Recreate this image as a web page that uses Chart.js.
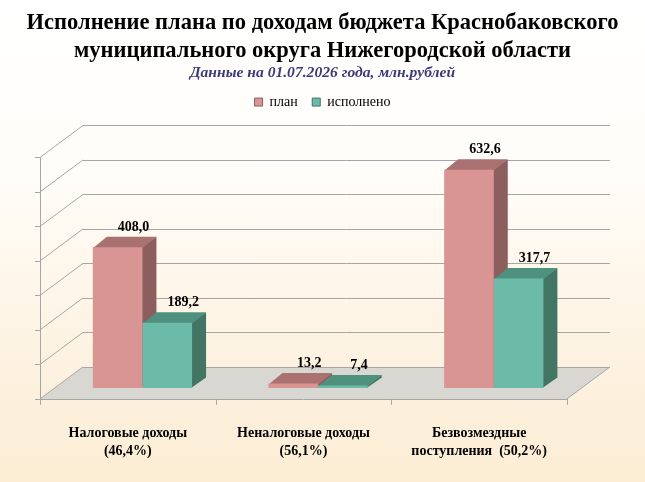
<!DOCTYPE html>
<html>
<head>
<meta charset="utf-8">
<script src="https://cdn.jsdelivr.net/npm/chart.js@4.4.1/dist/chart.umd.min.js"></script>
<style>
  html, body { margin: 0; padding: 0; }
  body { width: 645px; height: 482px; background: linear-gradient(to bottom, #ffffff 0%, #fffdf9 35%, #fdf3e3 70%, #fcedd4 100%); overflow: hidden; }
  #wrap { position: relative; width: 645px; height: 482px; }
</style>
</head>
<body>
<div id="wrap"><canvas id="c" width="645" height="482"></canvas></div>
<script>
const categories = [
  ["Налоговые доходы", "(46,4%)"],
  ["Неналоговые доходы", "(56,1%)"],
  ["Безвозмездные", "поступления  (50,2%)"]
];
const planValues = [408.0, 13.2, 632.6];
const doneValues = [189.2, 7.4, 317.7];
const seriesNames = ["план", "исполнено"];
const yTicks = [0, 100, 200, 300, 400, 500, 600, 700];

const SERIF = "'Liberation Serif', 'Times New Roman', serif";
// depth of plot box (front -> back) and bar plane fraction
const DEPTH = {dx: 43, dy: -32};
const BARF = 0.34;
const BARDEPTH = {dx: 14, dy: -10.5};

const palette = [
  {front: '#d99594', edge: '#c88280', top: '#a97170', side: '#8c5f5e'},
  {front: '#6bbba8', edge: '#58a592', top: '#4e917e', side: '#437565'}
];

function frontGradient(ctx, i) {
  const c = ctx.chart.ctx;
  const el = ctx.element;
  const p = palette[i];
  if (!el || !isFinite(el.x) || !isFinite(el.width)) return p.front;
  const x0 = el.x - el.width / 2, x1 = el.x + el.width / 2;
  const g = c.createLinearGradient(x0, 0, x1, 0);
  g.addColorStop(0, p.edge);
  g.addColorStop(0.12, p.front);
  g.addColorStop(0.88, p.front);
  g.addColorStop(1, p.edge);
  return g;
}

const fmt = v => v.toFixed(1).replace('.', ',');

const frame3d = {
  id: 'frame3d',
  beforeDatasetsDraw(chart) {
    const ctx = chart.ctx;
    const y = chart.scales.y;
    const ca = chart.chartArea;
    const fdx = -DEPTH.dx * BARF, fdy = -DEPTH.dy * BARF;         // bar plane -> front
    const bdx = DEPTH.dx * (1 - BARF), bdy = DEPTH.dy * (1 - BARF); // bar plane -> back
    const fl = ca.left + fdx, fr = ca.right + fdx;
    const bl = ca.left + bdx, br = ca.right + bdx;
    const y0 = y.getPixelForValue(0);
    ctx.save();
    // floor
    ctx.fillStyle = '#d9d7d1';
    ctx.beginPath();
    ctx.moveTo(fl, y0 + fdy);
    ctx.lineTo(fr, y0 + fdy);
    ctx.lineTo(br, y0 + bdy);
    ctx.lineTo(bl, y0 + bdy);
    ctx.closePath();
    ctx.fill();
    ctx.strokeStyle = '#a6a6a6';
    ctx.lineWidth = 1;
    ctx.beginPath();
    ctx.moveTo(fr, y0 + fdy);
    ctx.lineTo(br, y0 + bdy);
    ctx.stroke();
    // back gridlines + left wall lines
    yTicks.forEach(v => {
      const py = y.getPixelForValue(v);
      ctx.beginPath();
      ctx.moveTo(bl, Math.round(py + bdy) + 0.5);
      ctx.lineTo(br, Math.round(py + bdy) + 0.5);
      ctx.moveTo(fl, py + fdy);
      ctx.lineTo(bl, py + bdy);
      ctx.moveTo(fl - 5, Math.round(py + fdy) + 0.5);
      ctx.lineTo(fl, Math.round(py + fdy) + 0.5);
      ctx.stroke();
    });
    // left axis
    const top = y.getPixelForValue(yTicks[yTicks.length - 1]);
    ctx.beginPath();
    ctx.moveTo(Math.round(fl) + 0.5, top + fdy);
    ctx.lineTo(Math.round(fl) + 0.5, y0 + fdy);
    // bottom axis
    ctx.moveTo(fl, Math.round(y0 + fdy) + 0.5);
    ctx.lineTo(fr, Math.round(y0 + fdy) + 0.5);
    // category ticks
    const n = categories.length;
    for (let i = 0; i <= n; i++) {
      const px = Math.round(ca.left + (ca.right - ca.left) * i / n + fdx) + 0.5;
      ctx.moveTo(px, y0 + fdy);
      ctx.lineTo(px, y0 + fdy + 6);
    }
    ctx.stroke();

    // 3D side and top faces of the bars (fronts are drawn by Chart.js on top)
    chart.data.datasets.forEach((ds, di) => {
      const p = palette[di];
      chart.getDatasetMeta(di).data.forEach(el => {
        const x0 = el.x - el.width / 2, x1 = el.x + el.width / 2;
        const t = el.y, b = el.base;
        const dx = BARDEPTH.dx, dy = BARDEPTH.dy;
        ctx.fillStyle = p.side;
        ctx.beginPath();
        ctx.moveTo(x1 - 1, b);
        ctx.lineTo(x1 + dx, b + dy);
        ctx.lineTo(x1 + dx, t + dy);
        ctx.lineTo(x1 - 1, t);
        ctx.closePath();
        ctx.fill();
        ctx.fillStyle = p.top;
        ctx.beginPath();
        ctx.moveTo(x0, t + 1);
        ctx.lineTo(x1, t + 1);
        ctx.lineTo(x1 + dx, t + dy);
        ctx.lineTo(x0 + dx, t + dy);
        ctx.closePath();
        ctx.fill();
      });
    });
    ctx.restore();
  },
  afterDatasetsDraw(chart) {
    const ctx = chart.ctx;
    ctx.save();
    ctx.fillStyle = '#000000';
    ctx.font = "bold 14px " + SERIF;
    ctx.textAlign = 'center';
    ctx.textBaseline = 'middle';
    chart.data.datasets.forEach((ds, di) => {
      const meta = chart.getDatasetMeta(di);
      meta.data.forEach((el, j) => {
        ctx.fillText(fmt(ds.data[j]), el.x + 16, el.y - 20);
      });
    });
    ctx.restore();
  }
};

const hiddenAxis = {
  display: true,
  grid: { display: false },
  border: { display: false },
  ticks: { display: false }
};

new Chart(document.getElementById('c'), {
  type: 'bar',
  data: {
    labels: categories,
    datasets: [
      {
        label: seriesNames[0],
        data: planValues,
        backgroundColor: ctx => frontGradient(ctx, 0),
        borderWidth: 0,
        categoryPercentage: 0.565,
        barPercentage: 1.0
      },
      {
        label: seriesNames[1],
        data: doneValues,
        backgroundColor: ctx => frontGradient(ctx, 1),
        borderWidth: 0,
        categoryPercentage: 0.565,
        barPercentage: 1.0
      }
    ]
  },
  options: {
    responsive: false,
    animation: false,
    devicePixelRatio: 1,
    layout: { padding: 0 },
    plugins: {
      title: {
        display: true,
        text: ["Исполнение плана по доходам бюджета Краснобаковского", "муниципального округа Нижегородской области"],
        color: '#000000',
        font: { family: SERIF, size: 22.5, weight: 'bold', lineHeight: 1.244 },
        padding: { top: 9.5, bottom: 0 }
      },
      subtitle: {
        display: true,
        text: "Данные на 01.07.2026 года, млн.рублей",
        color: '#3d3a78',
        font: { family: SERIF, size: 15.6, weight: 'bold', style: 'italic', lineHeight: 1.0 },
        padding: { top: -0.5, bottom: 0 }
      },
      legend: {
        display: true,
        position: 'top',
        labels: {
          color: '#000000',
          font: { family: SERIF, size: 14 },
          boxWidth: 8,
          boxHeight: 8,
          padding: 14.5,
          generateLabels: chart => chart.data.datasets.map((ds, i) => ({
            text: ds.label,
            fillStyle: palette[i].front,
            strokeStyle: palette[i].side,
            lineWidth: 1,
            datasetIndex: i,
            hidden: false
          }))
        }
      },
      tooltip: { enabled: false }
    },
    scales: {
      x: {
        position: 'bottom',
        grid: { display: false },
        border: { display: false },
        ticks: {
          color: '#000000',
          font: { family: SERIF, size: 14, weight: 'bold', lineHeight: 1.286 },
          padding: 28,
          labelOffset: -14.6,
          maxRotation: 0,
          autoSkip: false
        },
        afterFit: s => { s.height = 94; }
      },
      xTop: Object.assign({}, hiddenAxis, {
        type: 'category',
        labels: categories.map(() => ''),
        position: 'top',
        afterFit: s => { s.height = 27.5; }
      }),
      y: Object.assign({}, hiddenAxis, {
        position: 'left',
        min: 0,
        max: 700,
        afterFit: s => { s.width = 54.6; }
      }),
      yRight: Object.assign({}, hiddenAxis, {
        type: 'linear',
        position: 'right',
        min: 0,
        max: 700,
        afterFit: s => { s.width = 63.4; }
      })
    }
  },
  plugins: [frame3d]
});
</script>
</body>
</html>
